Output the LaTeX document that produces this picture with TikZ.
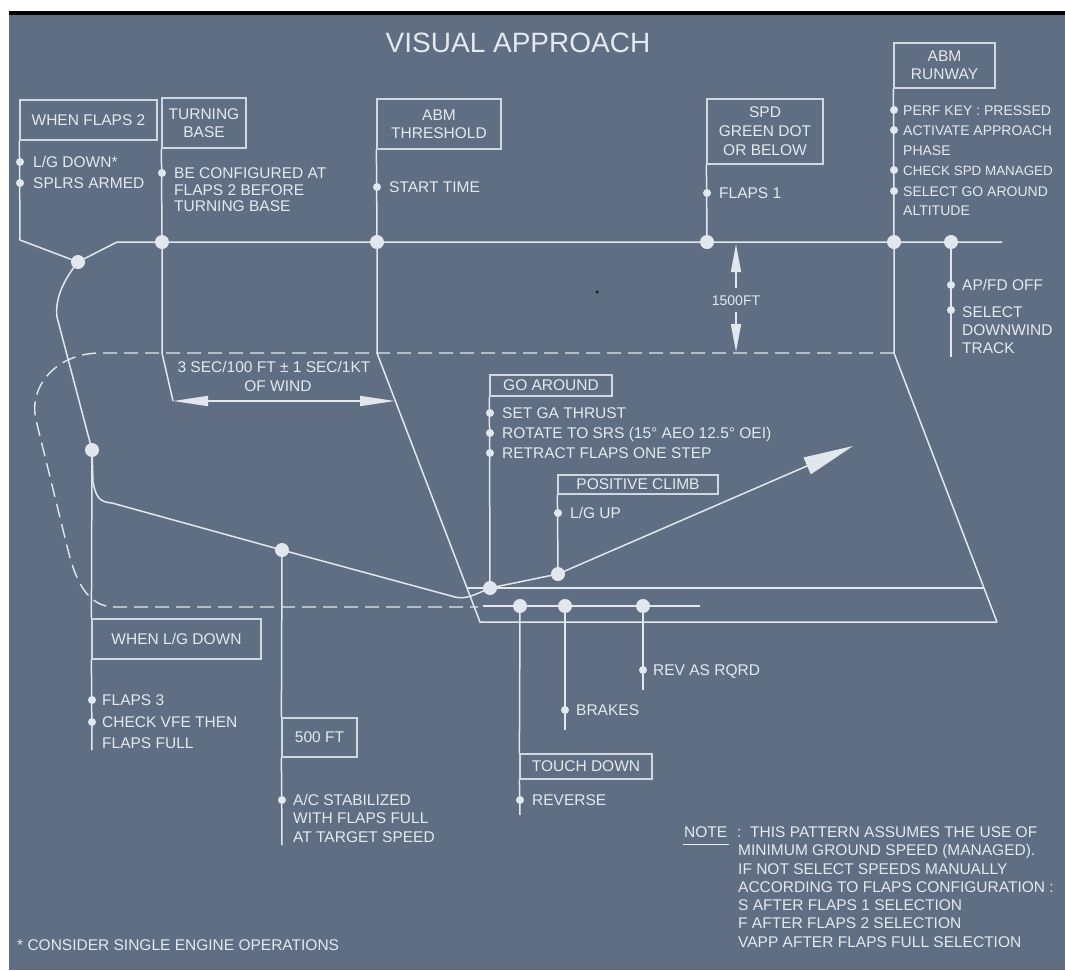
\documentclass[tikz,border=0pt]{standalone}
\usepackage{fontspec}
\setmainfont{Liberation Sans}
\usetikzlibrary{arrows.meta}
\definecolor{bgc}{RGB}{95,110,131}
\definecolor{linec}{RGB}{226,231,237}
\definecolor{boxc}{RGB}{208,215,224}
\definecolor{txtc}{RGB}{228,233,238}
\newcommand{\tf}{\fontsize{15.5}{18}\selectfont}
\newcommand{\tfs}{\fontsize{14}{16}\selectfont}
\begin{document}
\begin{tikzpicture}[x=1pt,y=-1pt,
  ln/.style={draw=linec, line width=1.5pt},
  bx/.style={draw=boxc, line width=1.2pt, text=txtc, font=\tf, align=center, inner sep=0pt},
  tl/.style={text=txtc, font=\tf, anchor=base west, inner sep=0pt},
  tcn/.style={text=txtc, font=\tf, anchor=base, inner sep=0pt},
  bd/.style={circle, fill=linec, minimum size=14pt, inner sep=0pt},
  sd/.style={circle, fill=linec, minimum size=8pt, inner sep=0pt},
  dsh/.style={draw=linec, line width=1.4pt, dash pattern=on 14pt off 7pt},
]
\fill[white] (0,0) rectangle (1065,970);
\useasboundingbox (0,0) rectangle (1065,970);
\fill[black] (9,11) rectangle (1065,15);
\fill[bgc] (9,15) rectangle (1065,970);

% title
\node[text=txtc, font=\fontsize{28}{30}\selectfont, anchor=base, inner sep=0pt] (title) at (518,52.5) {VISUAL APPROACH};

% boxes
\node[bx, minimum width=137pt, minimum height=40pt] (wf2) at (88.5,120) {WHEN FLAPS 2};
\node[bx, minimum width=84pt, minimum height=50pt] (tb) at (204,123) {TURNING\\BASE};
\node[bx, minimum width=124pt, minimum height=50pt] (at) at (439,124) {ABM\\THRESHOLD};
\node[bx, minimum width=116pt, minimum height=65pt, font=\fontsize{15.5}{19}\selectfont] (spd) at (765,131.5) {SPD\\GREEN DOT\\OR BELOW};
\node[bx, minimum width=101pt, minimum height=45pt] (ar) at (944.5,65.5) {ABM\\RUNWAY};
\node[bx, minimum width=122pt, minimum height=21pt] (ga) at (551,385.5) {GO AROUND};
\node[bx, minimum width=160pt, minimum height=19pt] (pc) at (638,484.5) {POSITIVE CLIMB};
\node[bx, minimum width=169pt, minimum height=40pt] (wlg) at (176.5,639) {WHEN L/G DOWN};
\node[bx, minimum width=75pt, minimum height=39pt] (f500) at (319.5,737.5) {500 FT};
\node[bx, minimum width=132pt, minimum height=25pt] (td) at (586,766.5) {TOUCH DOWN};

% key coordinates
\coordinate (mS) at (117,242);
\coordinate (mE) at (1002,242);
\coordinate (c20) at (20,240);
\coordinate (c57) at (57,317);
\coordinate (c94) at (93,482);
\coordinate (c112) at (112,503);
\coordinate (c455) at (455,597);
\coordinate (gaTip) at (853,446);
\coordinate (c162) at (162,353);
\coordinate (a3L) at (173,401);
\coordinate (a3R) at (395,401);
\coordinate (c377) at (377,353);
\coordinate (c894) at (894,353);
\coordinate (rwTL) at (467,588);
\coordinate (rwTR) at (984,588);
\coordinate (rwBL) at (480,622);
\coordinate (rwBR) at (997,622);
\coordinate (rc1) at (483,606);
\coordinate (rc2) at (700,606);
\coordinate (c951) at (951,357);
\coordinate (a15a) at (736,288);
\coordinate (a15t) at (736,244);
\coordinate (a15b) at (736,312);
\coordinate (a15d) at (736,352);
\coordinate (c92) at (92,750);
\coordinate (c282) at (282,845);
\coordinate (c520) at (520,815);
\coordinate (c565) at (565,730);
\coordinate (c643) at (643,690);
\coordinate (ds1) at (100,353);
\coordinate (ds2) at (36,420);
\coordinate (ds3) at (68,550);
\coordinate (ds4) at (115,607);
\coordinate (ds5) at (478,607);
\coordinate (nu1) at (683,844);
\coordinate (nu2) at (729,844);

% big dots
\node[bd] (dTB) at (162,242) {};
\node[bd] (dTH) at (377,242) {};
\node[bd] (dSP) at (707,242) {};
\node[bd] (dRW) at (894,242) {};
\node[bd] (dDW) at (951,242) {};
\node[bd] (dF2) at (78,262) {};
\node[bd] (dLG) at (92,450) {};
\node[bd] (d500) at (282,550) {};
\node[bd] (dGA) at (490,588) {};
\node[bd] (dPC) at (558,574) {};
\node[bd] (dT1) at (520,606) {};
\node[bd] (dT2) at (565,606) {};
\node[bd] (dT3) at (643,606) {};
% bullets
\node[sd] (b1) at (20,162) {};
\node[sd] (b2) at (20,183) {};
\node[sd] (b3) at (162,173) {};
\node[sd] (b4) at (377,187) {};
\node[sd] (b5) at (707,193) {};
\node[sd] (b6) at (894,110) {};
\node[sd] (b7) at (894,130) {};
\node[sd] (b8) at (894,170) {};
\node[sd] (b9) at (894,191) {};
\node[sd] (b10) at (951,285) {};
\node[sd] (b11) at (951,310) {};
\node[sd] (b12) at (490,413) {};
\node[sd] (b13) at (490,433) {};
\node[sd] (b14) at (490,453) {};
\node[sd] (b15) at (558,513) {};
\node[sd] (b16) at (92,700) {};
\node[sd] (b17) at (92,722) {};
\node[sd] (b18) at (282,800) {};
\node[sd] (b19) at (520,800) {};
\node[sd] (b20) at (565,710) {};
\node[sd] (b21) at (643,670) {};
\node[circle, fill=black!85, minimum size=3.5pt, inner sep=0pt] (spk) at (597,292) {};

% dashed 1500 ft pattern
\draw[dsh] (c894) -- (ds1) .. controls (58,353) and (28,385) .. (ds2) -- (ds3)
  .. controls (76,582) and (88,607) .. (ds4) -- (ds5);

% flight path
\draw[ln, -{Triangle[length=50pt,width=18pt]}] (mE) -- (mS) -- (dF2.center)
  .. controls (62,282) and (55,300) .. (c57) -- (dLG.center) -- (c94)
  .. controls (96,498) and (100,502) .. (c112) -- (d500.center) -- (c455)
  .. controls (466,600) and (476,594) .. (dGA.center) -- (dPC.center) -- (gaTip);

% callout and ground lines
\draw[ln] (wf2.south west) -- (c20) -- (dF2.center);
\draw[ln] (tb.south west) -- (dTB.center) -- (c162) -- (a3L);
\draw[ln] (at.south west) -- (dTH.center) -- (c377) -- (rwBL) -- (rwBR);
\draw[ln] (ar.south west) -- (dRW.center) -- (c894) -- (rwBR);
\draw[ln] (rwTL) -- (rwTR);
\draw[ln] (rc1) -- (rc2);
\draw[ln] (spd.south west) -- (dSP.center);
\draw[ln] (dDW.center) -- (c951);
\draw[ln] (ga.south west) -- (dGA.center);
\draw[ln] (pc.south west) -- (dPC.center);
\draw[ln] (dLG.center) -- (wlg.north west);
\draw[ln] (wlg.south west) -- (c92);
\draw[ln] (d500.center) -- (f500.north west);
\draw[ln] (f500.south west) -- (c282);
\draw[ln] (dT1.center) -- (td.north west);
\draw[ln] (td.south west) -- (c520);
\draw[ln] (dT2.center) -- (c565);
\draw[ln] (dT3.center) -- (c643);
\draw[ln, {Triangle[length=35pt,width=10pt]}-{Triangle[length=35pt,width=10pt]}] (a3L) -- (a3R);
\draw[ln, -{Triangle[length=28pt,width=10pt]}] (a15a) -- (a15t);
\draw[ln, -{Triangle[length=28pt,width=10pt]}] (a15b) -- (a15d);
\draw[draw=txtc, line width=1pt] (nu1) -- (nu2);

% texts
\node[tl] (t1) at (33,167.5) {L/G DOWN*};
\node[tl] (t2) at (33,188.5) {SPLRS ARMED};
\node[tl] (t3) at (174,178.5) {BE CONFIGURED AT};
\node[tl] (t4) at (174,195) {FLAPS 2 BEFORE};
\node[tl] (t5) at (174,211.5) {TURNING BASE};
\node[tl] (t6) at (389,192.5) {START TIME};
\node[tl] (t7) at (719,198.5) {FLAPS 1};
\node[tl, font=\tfs] (t8) at (903,115) {PERF KEY : PRESSED};
\node[tl, font=\tfs] (t9) at (903,135) {ACTIVATE APPROACH};
\node[tl, font=\tfs] (t10) at (903,155) {PHASE};
\node[tl, font=\fontsize{13.4}{16}\selectfont] (t11) at (903,175) {CHECK SPD MANAGED};
\node[tl, font=\tfs] (t12) at (903,196) {SELECT GO AROUND};
\node[tl, font=\tfs] (t13) at (903,215) {ALTITUDE};
\node[tl] (t14) at (962,290.5) {AP/FD OFF};
\node[tl] (t15) at (962,317.5) {SELECT};
\node[tl] (t16) at (962,335.5) {DOWNWIND};
\node[tl] (t17) at (962,353.5) {TRACK};
\node[tcn, font=\fontsize{14}{16}\selectfont] (t18) at (736,305) {1500FT};
\node[tcn] (t19) at (274,372.5) {3 SEC/100 FT ± 1 SEC/1KT};
\node[tcn] (t20) at (278,391.5) {OF WIND};
\node[tl] (t21) at (502,418.5) {SET GA THRUST};
\node[tl] (t22) at (502,438.5) {ROTATE TO SRS (15° AEO 12.5° OEI)};
\node[tl] (t23) at (502,458.5) {RETRACT FLAPS ONE STEP};
\node[tl] (t24) at (570,518.5) {L/G UP};
\node[tl] (t25) at (102,705.5) {FLAPS 3};
\node[tl] (t26) at (102,727.5) {CHECK VFE THEN};
\node[tl] (t27) at (102,748) {FLAPS FULL};
\node[tl] (t28) at (293,805.5) {A/C STABILIZED};
\node[tl] (t29) at (293,823.5) {WITH FLAPS FULL};
\node[tl] (t30) at (293,842.5) {AT TARGET SPEED};
\node[tl] (t31) at (532,805.5) {REVERSE};
\node[tl] (t32) at (576,715.5) {BRAKES};
\node[tl] (t33) at (653,675.5) {REV AS RQRD};
\node[tl] (t34) at (684,837.5) {NOTE};
\node[tl] (t35) at (737,837.5) {:};
\node[tl] (t36) at (750,837.5) {THIS PATTERN ASSUMES THE USE OF};
\node[tl] (t37) at (738,855.5) {MINIMUM GROUND SPEED (MANAGED).};
\node[tl] (t38) at (738,874.5) {IF NOT SELECT SPEEDS MANUALLY};
\node[tl] (t39) at (738,892.5) {ACCORDING TO FLAPS CONFIGURATION :};
\node[tl] (t40) at (738,910.5) {S AFTER FLAPS 1 SELECTION};
\node[tl] (t41) at (738,928.5) {F AFTER FLAPS 2 SELECTION};
\node[tl] (t42) at (738,947.5) {VAPP AFTER FLAPS FULL SELECTION};
\node[tl] (t43) at (17,950.5) {* CONSIDER SINGLE ENGINE OPERATIONS};
\end{tikzpicture}
\end{document}
